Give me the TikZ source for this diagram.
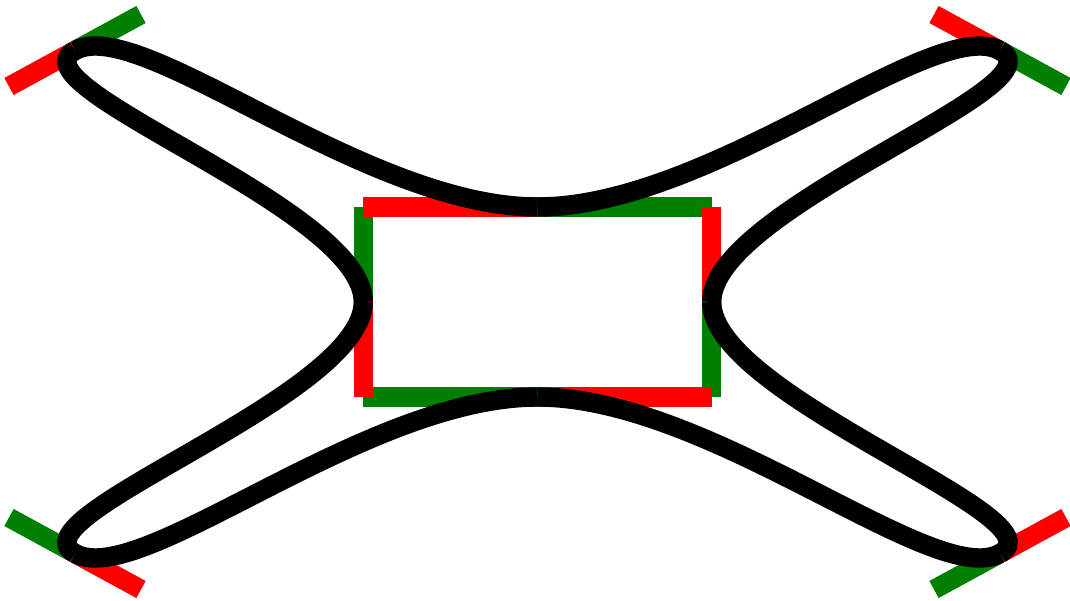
\documentclass[tikz,border=0pt]{standalone}
\definecolor{hgreen}{RGB}{0,128,0}
\definecolor{hred}{RGB}{255,0,0}
\tikzset{
  inh/.style={draw=hred,line width=19.4pt},
  outh/.style={draw=hgreen,line width=19.4pt},
  crv/.style={draw=black,line width=19.4pt}
}
\begin{document}
\begin{tikzpicture}[x=1pt,y=-1pt]
\useasboundingbox (0,0) rectangle (1070,601);
% points on the curve
\coordinate (T)  at (537.5,207);
\coordinate (TR) at (1000,50.5);
\coordinate (R)  at (711.7,302);
\coordinate (BR) at (1000,553.5);
\coordinate (B)  at (537.5,397);
\coordinate (BL) at (75,553.5);
\coordinate (L)  at (363.3,302);
\coordinate (TL) at (75,50.5);
% control handles (in = red, out = green)
\coordinate (Tin)   at (363.3,207);
\coordinate (Tout)  at (711.7,207);
\coordinate (TRin)  at (934,14.5);
\coordinate (TRout) at (1066,86.5);
\coordinate (Rin)   at (711.7,207);
\coordinate (Rout)  at (711.7,397);
\coordinate (BRin)  at (1066,517.5);
\coordinate (BRout) at (934,589.5);
\coordinate (Bin)   at (711.7,397);
\coordinate (Bout)  at (363.3,397);
\coordinate (BLin)  at (141,589.5);
\coordinate (BLout) at (9,517.5);
\coordinate (Lin)   at (363.3,397);
\coordinate (Lout)  at (363.3,207);
\coordinate (TLin)  at (9,86.5);
\coordinate (TLout) at (141,14.5);
% outgoing handles
\draw[outh] (T) -- (Tout);
\draw[outh] (TR) -- (TRout);
\draw[outh] (R) -- (Rout);
\draw[outh] (BR) -- (BRout);
\draw[outh] (B) -- (Bout);
\draw[outh] (BL) -- (BLout);
\draw[outh] (L) -- (Lout);
\draw[outh] (TL) -- (TLout);
% incoming handles
\draw[inh] (T) -- (Tin);
\draw[inh] (TR) -- (TRin);
\draw[inh] (R) -- (Rin);
\draw[inh] (BR) -- (BRin);
\draw[inh] (B) -- (Bin);
\draw[inh] (BL) -- (BLin);
\draw[inh] (L) -- (Lin);
\draw[inh] (TL) -- (TLin);
% the curve
\draw[crv] (T) .. controls (Tout) and (TRin) .. (TR);
\draw[crv] (TR) .. controls (TRout) and (Rin) .. (R);
\draw[crv] (R) .. controls (Rout) and (BRin) .. (BR);
\draw[crv] (BR) .. controls (BRout) and (Bin) .. (B);
\draw[crv] (B) .. controls (Bout) and (BLin) .. (BL);
\draw[crv] (BL) .. controls (BLout) and (Lin) .. (L);
\draw[crv] (L) .. controls (Lout) and (TLin) .. (TL);
\draw[crv] (TL) .. controls (TLout) and (Tin) .. (T);
\end{tikzpicture}
\end{document}
